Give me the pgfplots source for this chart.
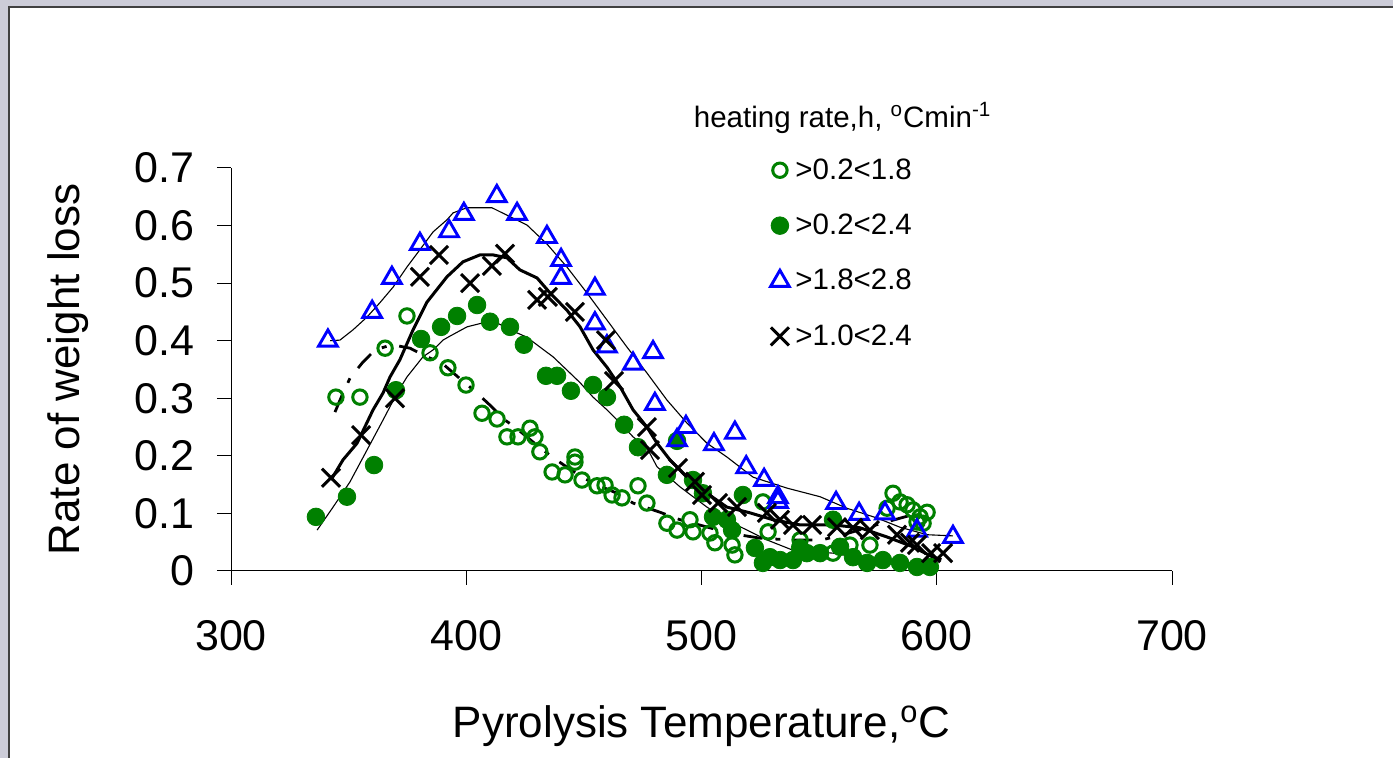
\documentclass[border=0pt]{standalone}
\usepackage{fontspec}
\setmainfont{Liberation Sans}
\usepackage{pgfplots}
\pgfplotsset{compat=1.18}
\definecolor{serGreen}{RGB}{0,128,0}
\definecolor{serBlue}{RGB}{0,0,255}
\definecolor{frameGray}{RGB}{204,204,216}
\definecolor{frameLine}{RGB}{64,64,64}

\begin{document}
\begin{tikzpicture}
% slide background and panel
\fill[frameGray] (0,0) rectangle (696.5pt,379pt);
\fill[white] (4.5pt,0) rectangle (696.5pt,375.5pt);
\draw[frameLine, line width=1pt] (4.5pt,0) -- (4.5pt,375.5pt) -- (696.5pt,375.5pt);
\begin{axis}[
  at={(115.5pt,93.5pt)}, anchor=south west,
  scale only axis, width=470.5pt, height=201.5pt,
  xmin=300, xmax=700, ymin=0, ymax=0.7,
  axis x line*=bottom, axis y line*=left,
  axis line style={-, line width=0.5pt},
  xtick={300,400,...,700},
  ytick={0,0.1,0.2,0.3,0.4,0.5,0.6,0.7},
  tick align=outside, major tick length=7pt,
  tick style={black, line width=0.5pt},
  /pgf/number format/assume math mode=true,
  tick label style={font=\fontsize{21.5}{25}\selectfont},
  yticklabel style={xshift=-7.8pt},
  xticklabel style={yshift=-14.3pt},
  xlabel={Pyrolysis Temperature,\textsuperscript{o}C},
  ylabel={Rate of weight loss},
  label style={font=\fontsize{22}{26}\selectfont},
  xlabel style={at={(axis description cs:0.5,-0.414)}, anchor=base},
  ylabel style={at={(axis description cs:-0.1605,0.5)}, anchor=base, rotate=0},
  clip=false,
  legend style={draw=none, fill=none, font=\fontsize{14.75}{17.7}\selectfont,
    at={(rel axis cs:0.5707,1.0346)}, anchor=north west, inner sep=0pt,
    row sep=11.9pt, column sep=0pt},
  legend cell align=left,
  legend image code/.code={\path (-5pt,0pt) (5pt,0pt); \draw[#1] plot coordinates {(0pt,0pt)};},
]
% >0.2<1.8 open circles
\addplot[only marks, mark=o, mark size=3.6pt, serGreen, line width=1.5pt] coordinates {
(344.6,0.302) (354.8,0.302) (365.5,0.387) (374.8,0.443) (384.6,0.379) (392.2,0.353)
(399.9,0.323) (406.7,0.274) (413.1,0.264) (417.3,0.233) (422.0,0.233) (427.1,0.248)
(429.2,0.233) (431.3,0.207) (436.5,0.172) (442.0,0.167) (446.2,0.189) (446.2,0.198)
(449.2,0.158) (455.6,0.148) (459.0,0.149) (462.0,0.132) (466.2,0.127) (473.0,0.148)
(476.8,0.118) (485.3,0.083) (489.6,0.071) (495.1,0.089) (496.4,0.068) (503.6,0.066)
(505.7,0.049) (513.0,0.045) (514.2,0.028) (526.1,0.120) (528.3,0.068) (541.9,0.054)
(555.9,0.031) (563.1,0.045) (571.6,0.045) (578.9,0.109) (581.4,0.135) (584.4,0.120)
(587.4,0.115) (589.9,0.106) (595.9,0.102) (592.9,0.094) (591.6,0.085) (594.2,0.083)
};
\addlegendentry{>0.2<1.8}
% >0.2<2.4 filled circles
\addplot[only marks, mark=*, mark size=4.4pt, serGreen, fill=serGreen] coordinates {
(336.1,0.094) (349.3,0.129) (360.8,0.184) (370.1,0.314) (380.8,0.403) (389.3,0.424)
(396.1,0.443) (404.6,0.462) (410.1,0.433) (418.6,0.424) (424.5,0.393) (433.9,0.339)
(438.6,0.339) (444.5,0.313) (453.9,0.323) (459.8,0.302) (467.1,0.254) (473.0,0.215)
(485.3,0.167) (489.6,0.226) (496.4,0.158) (500.6,0.135) (504.9,0.094) (510.8,0.089)
(517.6,0.132) (513.0,0.071) (522.7,0.040) (526.1,0.014) (529.1,0.024) (533.4,0.019)
(538.9,0.019) (541.9,0.040) (544.8,0.031) (550.4,0.031) (555.9,0.089) (558.9,0.042)
(564.4,0.024) (570.4,0.014) (577.1,0.019) (584.4,0.014) (591.6,0.007) (597.1,0.007)
};
\addlegendentry{>0.2<2.4}
% >1.8<2.8 triangles
\addplot[only marks, mark=triangle, mark size=5.4pt, serBlue, line width=1.45pt] coordinates {
(341.2,0.400) (360.0,0.450) (368.4,0.509) (380.3,0.568) (392.7,0.590) (399.0,0.620)
(413.0,0.651) (421.6,0.620) (434.3,0.580) (440.3,0.540) (440.3,0.509) (454.7,0.490)
(454.7,0.430) (459.8,0.390) (470.9,0.360) (479.4,0.380) (480.2,0.290) (489.6,0.227)
(493.4,0.250) (505.3,0.220) (514.2,0.240) (519.0,0.180) (526.6,0.158) (532.5,0.128)
(532.5,0.120) (557.2,0.118) (567.0,0.099) (578.0,0.100) (591.6,0.070) (606.9,0.059)
};
\addlegendentry{>1.8<2.8}
% >1.0<2.4 crosses
\addplot[only marks, mark=x, mark size=6.4pt, black, line width=1.5pt] coordinates {
(342.5,0.162) (355.3,0.236) (369.7,0.300) (380.3,0.511) (388.4,0.549) (401.6,0.500)
(410.9,0.530) (416.5,0.551) (430.1,0.471) (434.7,0.476) (446.2,0.450) (459.4,0.401)
(462.8,0.330) (476.8,0.250) (478.1,0.210) (490.0,0.179) (497.2,0.155) (500.2,0.132)
(507.0,0.118) (515.1,0.111) (527.8,0.101) (533.4,0.089) (538.9,0.080) (547.0,0.080)
(557.6,0.076) (564.4,0.075) (571.6,0.071) (583.1,0.063) (588.6,0.049) (591.6,0.045)
(597.6,0.031) (602.7,0.031)
};
\addlegendentry{>1.0<2.4}
% trend lines
\addplot[forget plot, black, line width=0.55pt] coordinates {
(342.1,0.400) (346.3,0.401) (351.9,0.419) (357.8,0.441) (363.3,0.466) (368.9,0.493)
(374.8,0.528) (380.3,0.558) (385.9,0.589) (391.8,0.610) (394.4,0.622) (400.3,0.631)
(410.9,0.631) (417.3,0.618) (425.8,0.601) (434.3,0.568) (442.8,0.528) (451.3,0.483)
(459.8,0.436) (468.3,0.389) (476.8,0.344) (485.3,0.297) (493.8,0.257) (502.3,0.222)
(510.8,0.198) (521.9,0.163) (536.3,0.144) (550.4,0.129) (561.8,0.109) (574.6,0.092)
(584.4,0.076) (595.9,0.063) (606.9,0.061)
};
\addplot[forget plot, black, line width=1.5pt] coordinates {
(342.5,0.158) (347.6,0.193) (353.6,0.222) (360.4,0.280) (364.6,0.309) (367.6,0.337)
(371.8,0.367) (377.4,0.419) (383.3,0.467) (391.8,0.511) (398.6,0.537) (405.8,0.549)
(411.4,0.549) (417.3,0.544) (422.8,0.523) (430.1,0.509) (435.6,0.483) (442.8,0.453)
(448.4,0.424) (453.9,0.384) (459.8,0.354) (465.4,0.320) (470.9,0.280) (476.8,0.250)
(481.1,0.222) (486.6,0.193) (493.8,0.163) (502.3,0.135) (510.8,0.111) (520.6,0.101)
(530.4,0.089) (541.9,0.080) (555.9,0.080) (567.4,0.075) (578.9,0.059) (589.9,0.042)
(598.4,0.024) (602.0,0.020)
};
\addplot[forget plot, black, line width=0.55pt] coordinates {
(336.6,0.071) (343.4,0.111) (350.6,0.155) (357.8,0.210) (364.6,0.262) (370.6,0.309)
(374.8,0.337) (381.6,0.372) (385.9,0.384) (390.1,0.401) (393.1,0.408) (400.3,0.424)
(407.1,0.431) (413.1,0.431) (418.6,0.419) (425.8,0.406) (431.3,0.389) (436.9,0.372)
(442.8,0.349) (448.4,0.327) (453.9,0.302) (459.8,0.280) (465.4,0.257) (470.9,0.233)
(476.8,0.214) (481.1,0.181) (490.9,0.146) (502.3,0.111) (513.4,0.083) (527.8,0.054)
(538.9,0.036) (555.9,0.031) (572.9,0.019) (587.4,0.014) (598.4,0.014)
};
\addplot[forget plot, black, line width=1.4pt,
  dash pattern=on 9.5pt off 6.5pt on 2.5pt off 6.5pt] coordinates {
(344.2,0.276) (347.6,0.309) (350.6,0.335) (355.7,0.361) (361.2,0.384) (368.4,0.393)
(376.1,0.387) (383.3,0.372) (389.7,0.361) (396.5,0.337) (404.6,0.309) (410.1,0.288)
(416.5,0.262) (420.7,0.250) (428.4,0.224) (436.5,0.198) (443.3,0.179) (449.6,0.162)
(456.0,0.149) (464.1,0.135) (470.9,0.118) (482.4,0.102) (490.9,0.089) (503.6,0.075)
(511.3,0.066) (524.9,0.057) (537.6,0.054) (551.2,0.054) (560.2,0.063) (575.9,0.082)
(590.8,0.099)
};
\node[font=\fontsize{14.75}{17.7}\selectfont, anchor=base] at (rel axis cs:0.650,1.1017)
  {heating rate,h, \textsuperscript{o}Cmin\textsuperscript{-1}};
\end{axis}
\pgfresetboundingbox
\path[use as bounding box] (0,0) rectangle (696.5pt,379pt);
\end{tikzpicture}
\end{document}
